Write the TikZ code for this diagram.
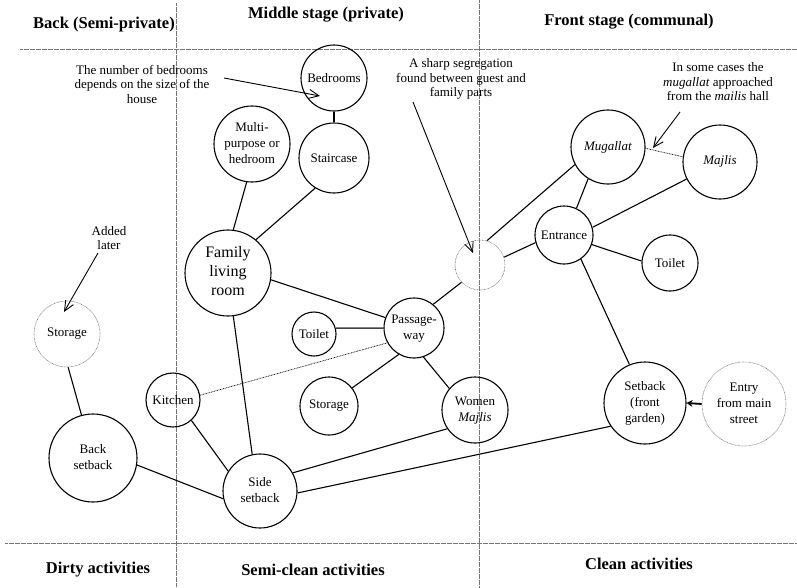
\documentclass[tikz,border=0pt]{standalone}
\usepackage{fontspec}
\setmainfont{Liberation Serif}
\usetikzlibrary{arrows.meta}

% multi-line room label, optionally lifted inside its circle
\newcommand\roomtext[2][0pt]{\raisebox{#1}{\begin{tabular}{@{}c@{}}#2\end{tabular}}}

\begin{document}
\begin{tikzpicture}[x=1pt,y=-1pt,
  room/.style={circle, draw, line width=1.1pt, inner sep=0pt, font=\fontsize{13}{16}\selectfont},
  ghost/.style={circle, draw=black!55, dash pattern=on 0.7pt off 0.7pt, line width=0.6pt, inner sep=0pt, font=\fontsize{13}{16}\selectfont},
  link/.style={line width=1.1pt},
  dotlink/.style={dash pattern=on 0.8pt off 0.8pt, line width=0.7pt},
  zone/.style={black!55, dash pattern=on 0.6pt off 0.6pt, line width=0.5pt},
  note/.style={align=center, font=\fontsize{13}{14.5}\selectfont},
  heading/.style={font=\bfseries\fontsize{16.5}{19}\selectfont},
  notearrow/.style={line width=0.9pt, -{Straight Barb[length=10pt,width=9pt]}},
]
\useasboundingbox (0,0) rectangle (797,587);

% zone boundaries
\draw[zone] (176,3) -- (176,587);
\draw[zone] (479,0) -- (479,587);
\draw[zone] (20,49) -- (797,49);
\draw[zone] (5,543) -- (797,543);

% headings
\node[heading] (hback) at (104,25) {Back (Semi-private)};
\node[heading] (hmid) at (326,15) {Middle stage (private)};
\node[heading] (hfront) at (629,22) {Front stage (communal)};
\node[heading] (hdirty) at (98,570) {Dirty activities};
\node[heading] (hsemi) at (313,570) {Semi-clean activities};
\node[heading] (hclean) at (639,564) {Clean activities};

% rooms
\node[room, minimum size=66pt] (bed) at (334,78) {Bedrooms};
\node[room, minimum size=76pt] (multi) at (252,144) {\roomtext[7pt]{Multi-\\purpose or\\hedroom}};
\node[room, minimum size=70pt] (stair) at (334,158) {Staircase};
\node[room, minimum size=86pt, font=\fontsize{16}{19}\selectfont] (fam) at (228,273) {\roomtext[1pt]{Family\\living\\room}};
\node[ghost, minimum size=66pt] (storeL) at (67,334) {Storage};
\node[room, minimum size=44pt] (toiletM) at (314,334) {Toilet};
\node[room, minimum size=60pt] (pass) at (414,328) {\roomtext{Passage-\\way}};
\node[room, minimum size=54pt] (kitchen) at (173,400) {Kitchen};
\node[room, minimum size=58pt] (storeM) at (329,406) {Storage};
\node[room, minimum size=66pt] (women) at (475,410) {\roomtext{Women\\\textit{Majlis}}};
\node[room, minimum size=88pt] (back) at (93,458) {\roomtext[3pt]{Back\\setback}};
\node[room, minimum size=74pt] (side) at (260,491) {\roomtext[2pt]{Side\\setback}};
\node[ghost, minimum size=50pt] (gap) at (480,265) {};
\node[room, minimum size=58pt] (entr) at (564,235) {Entrance};
\node[room, minimum size=74pt] (mug) at (608,147) {\textit{Mugallat}};
\node[room, minimum size=74pt] (majlis) at (720,162) {\raisebox{4pt}{\textit{Majlis}}};
\node[room, minimum size=56pt] (toiletR) at (670,263) {Toilet};
\node[room, minimum size=82pt] (front) at (645,403) {\roomtext{Setback\\(front\\garden)}};
\node[ghost, minimum size=84pt] (entry) at (744,404) {\roomtext[12pt]{Entry\\from main\\street}};

% connections
\draw[link] (bed) -- (stair);
\draw[link] (stair.238) -- (fam.50);
\draw[link] (multi.-98) -- (fam.83);
\draw[link] (fam.-9) -- (pass.160);
\draw[link] (fam.-83) -- (side.102);
\draw[link, black!75, line width=1.5pt] (toiletM.15) -- (pass.180);
\draw[link] (pass.-120) -- (storeM.38);
\draw[link] (pass.-72) -- (women.140);
\draw[link] (pass.51) -- (gap.223);
\draw[dotlink] (kitchen.10) -- (pass.209);
\draw[link] (kitchen.-48) -- (side.148);
\draw[link] (storeL.-88) -- (back.105);
\draw[link] (back.-9) -- (side.192);
\draw[link] (side.29) -- (women.214);
\draw[link] (side.-3) -- (front.214);
\draw[link] (gap.74) -- (mug.208);
\draw[link] (gap.18) -- (entr.195);
\draw[link] (mug.-122) -- (entr.65);
\draw[link] (majlis.207) -- (entr.15);
\draw[link] (entr.-19) -- (toiletR.176);
\draw[link] (entr.-55) -- (front.112);
\draw[dotlink] (mug.-2) -- (majlis.172);
\draw[line width=1.8pt, -{Stealth[length=6pt,width=7pt]}] (entry.west) -- (front.east);

% annotations
\node[note] (bnote) at (142,84) {The number of bedrooms\\depends on the size of the\\house};
\node[note] (snote) at (461,79) {A sharp segregation\\found between guest and\\family parts};
\node[note] (mnote) at (718,82) {In some cases the\\\textit{mugallat} approached\\from the \textit{mailis} hall};
\node[note] (anote) at (109,238) {Added\\later};

\coordinate (bnoteTail) at (224,78);
\coordinate (bnoteTip) at (320,96);
\coordinate (snoteTail) at (413,102);
\coordinate (snoteTip) at (473,253);
\coordinate (mnoteTail) at (680,112);
\coordinate (mnoteTip) at (653,148);
\coordinate (anoteTail) at (98,253);
\coordinate (anoteTip) at (64,312);

\draw[notearrow] (bnoteTail) -- (bnoteTip);
\draw[notearrow] (snoteTail) -- (snoteTip);
\draw[notearrow] (mnoteTail) -- (mnoteTip);
\draw[notearrow] (anoteTail) -- (anoteTip);
\end{tikzpicture}
\end{document}
